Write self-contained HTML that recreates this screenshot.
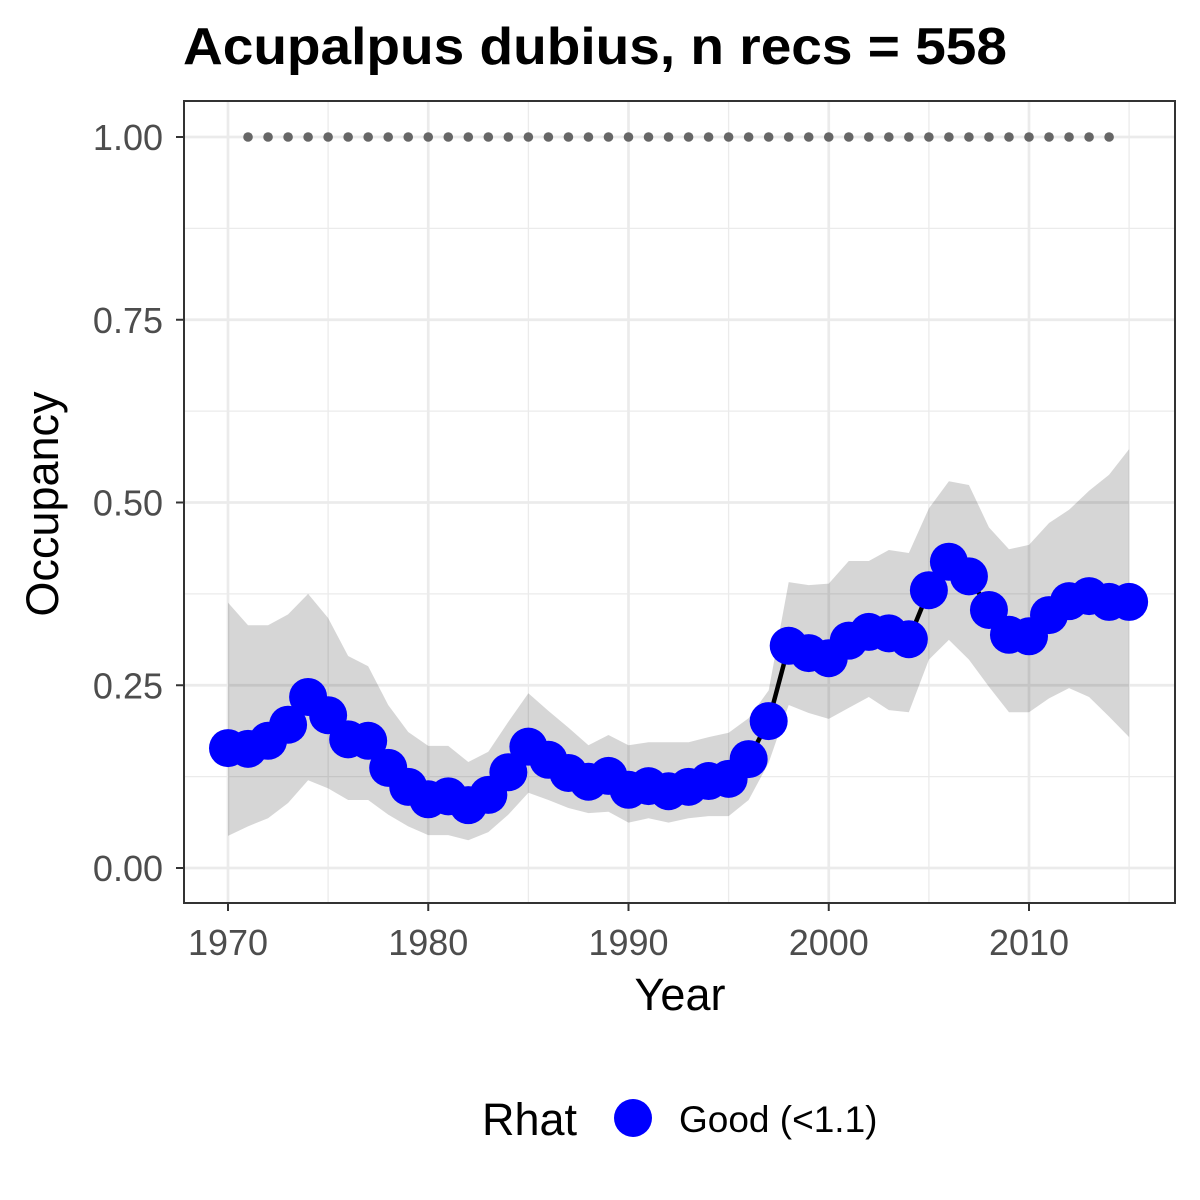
<!DOCTYPE html>
<html><head><meta charset="utf-8"><style>
html,body{margin:0;padding:0;background:#fff;}
svg{display:block;font-family:"Liberation Sans",Arial,sans-serif;}
</style></head><body>
<svg id="chart" width="1200" height="1200" viewBox="0 0 1200 1200">
<rect width="1200" height="1200" fill="#fff"/>
<text x="183" y="64" font-size="52" font-weight="bold" fill="#000" textLength="824" lengthAdjust="spacingAndGlyphs">Acupalpus dubius, n recs = 558</text>
<g id="grid"></g>
<g id="ribbon"></g>
<g id="series"></g>
<rect x="184" y="101" width="991" height="802" fill="none" stroke="#333" stroke-width="2"/>
<g id="axes"></g>
<text x="680" y="1010" font-size="45" text-anchor="middle" fill="#000">Year</text>
<text transform="translate(58,504) rotate(-90)" font-size="45" text-anchor="middle" fill="#000">Occupancy</text>
<g>
<text x="482" y="1135" font-size="45" fill="#000">Rhat</text>
<circle cx="633" cy="1118" r="19" fill="#0000ff"/>
<text x="679" y="1132" font-size="37" fill="#000">Good (&lt;1.1)</text>
</g>
</svg>
<script>
const years = [1970,1971,1972,1973,1974,1975,1976,1977,1978,1979,1980,1981,1982,1983,1984,1985,1986,1987,1988,1989,1990,1991,1992,1993,1994,1995,1996,1997,1998,1999,2000,2001,2002,2003,2004,2005,2006,2007,2008,2009,2010,2011,2012,2013,2014,2015];
const occupancy = [0.164,0.163,0.174,0.196,0.234,0.209,0.176,0.174,0.137,0.111,0.094,0.098,0.086,0.100,0.131,0.166,0.148,0.130,0.118,0.126,0.107,0.112,0.105,0.111,0.119,0.122,0.149,0.201,0.304,0.294,0.287,0.311,0.323,0.321,0.313,0.380,0.419,0.399,0.353,0.319,0.317,0.346,0.365,0.372,0.364,0.364];
const upper = [0.363,0.332,0.332,0.347,0.375,0.342,0.290,0.276,0.223,0.186,0.167,0.167,0.145,0.159,0.200,0.239,0.215,0.192,0.168,0.182,0.168,0.172,0.172,0.172,0.179,0.185,0.205,0.243,0.391,0.387,0.389,0.420,0.420,0.435,0.431,0.492,0.529,0.524,0.466,0.436,0.442,0.472,0.490,0.516,0.538,0.573];
const lower = [0.044,0.057,0.068,0.089,0.120,0.109,0.093,0.093,0.073,0.057,0.045,0.045,0.038,0.049,0.073,0.103,0.093,0.082,0.075,0.077,0.062,0.068,0.062,0.068,0.071,0.071,0.093,0.144,0.223,0.212,0.204,0.219,0.234,0.216,0.213,0.285,0.312,0.285,0.248,0.213,0.213,0.232,0.246,0.234,0.207,0.179];
const refYears = [1971,1972,1973,1974,1975,1976,1977,1978,1979,1980,1981,1982,1983,1984,1985,1986,1987,1988,1989,1990,1991,1992,1993,1994,1995,1996,1997,1998,1999,2000,2001,2002,2003,2004,2005,2006,2007,2008,2009,2010,2011,2012,2013,2014];
const refValue = 1.0;
const xTicks = [1970,1980,1990,2000,2010];
const xMinor = [1975,1985,1995,2005,2015];
const yTicks = [0,0.25,0.5,0.75,1.0];
const yTickLabels = ["0.00","0.25","0.50","0.75","1.00"];
const yMinor = [0.125,0.375,0.625,0.875];

const NS="http://www.w3.org/2000/svg";
const xs = y => 228 + (y-1970)*20.025;
const ys = v => 868 - v*731;
function mk(tag, attrs, parent){const e=document.createElementNS(NS,tag);for(const k in attrs)e.setAttribute(k,attrs[k]);parent.appendChild(e);return e;}
const grid=document.getElementById('grid'), rib=document.getElementById('ribbon'), ser=document.getElementById('series'), axes=document.getElementById('axes');
xMinor.forEach(t=>{const l=mk('line',{x1:xs(t),x2:xs(t),y1:101,y2:903,stroke:'#ebebeb','stroke-width':1.3},grid);

});
yMinor.forEach(t=>{const l=mk('line',{x1:184,x2:1175,y1:ys(t),y2:ys(t),stroke:'#ebebeb','stroke-width':1.3},grid);

});
xTicks.forEach(t=>{const l=mk('line',{x1:xs(t),x2:xs(t),y1:101,y2:903,stroke:'#ebebeb','stroke-width':2.7},grid);


const k=mk('line',{x1:xs(t),x2:xs(t),y1:903,y2:911,stroke:'#333','stroke-width':2},axes);


const tx=mk('text',{x:xs(t),y:955,'font-size':36,'text-anchor':'middle',fill:'#4d4d4d'},axes);tx.textContent=t;

});
yTicks.forEach((t,i)=>{const l=mk('line',{x1:184,x2:1175,y1:ys(t),y2:ys(t),stroke:'#ebebeb','stroke-width':2.7},grid);


const k=mk('line',{x1:176,x2:184,y1:ys(t),y2:ys(t),stroke:'#333','stroke-width':2},axes);


const tx=mk('text',{x:163,y:ys(t)+13,'font-size':36,'text-anchor':'end',fill:'#4d4d4d'},axes);tx.textContent=yTickLabels[i];

});
let d='';years.forEach((y,i)=>{d+=(i?'L':'M')+xs(y)+','+ys(upper[i]);});
for(let i=years.length-1;i>=0;i--)d+='L'+xs(years[i])+','+ys(lower[i]);
const r=mk('path',{d:d+'Z',fill:'#000','fill-opacity':0.16},rib);


refYears.forEach(y=>{const c=mk('circle',{cx:xs(y),cy:ys(refValue),r:4.8,fill:'#666'},ser);

});
const pl=mk('polyline',{points:years.map((y,i)=>xs(y)+','+ys(occupancy[i])).join(' '),fill:'none',stroke:'#000','stroke-width':4.5},ser);


years.forEach((y,i)=>{const c=mk('circle',{cx:xs(y),cy:ys(occupancy[i]),r:19,fill:'#0000ff'},ser);

});
</script>
</body></html>
